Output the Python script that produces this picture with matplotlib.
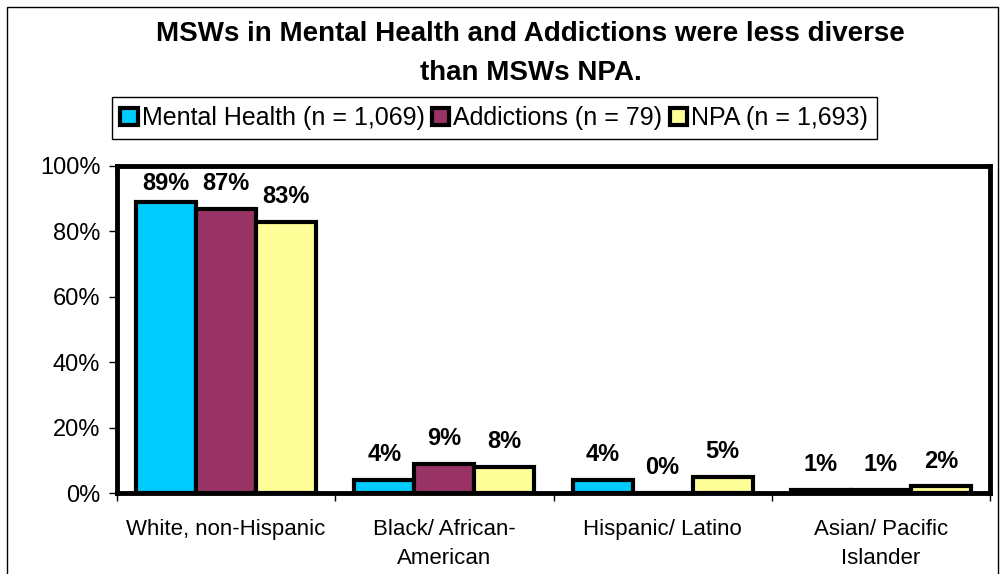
import matplotlib
matplotlib.use("Agg")
import matplotlib.pyplot as plt
import numpy as np
from matplotlib.patches import Rectangle

plt.rcParams['font.family'] = ['Liberation Sans', 'DejaVu Sans']

categories = ["White, non-Hispanic", "Black/ African-\nAmerican", "Hispanic/ Latino", "Asian/ Pacific\nIslander"]
series_names = ["Mental Health (n = 1,069)", "Addictions (n = 79)", "NPA (n = 1,693)"]
mental_health = [89, 4, 4, 1]
addictions = [87, 9, 0, 1]
npa = [83, 8, 5, 2]
yticks = [0, 20, 40, 60, 80, 100]
colors = ["#00CCFF", "#993366", "#FFFF99"]

fig = plt.figure(figsize=(10.01, 5.74), dpi=100)
ax = fig.add_axes([117/1001, 1-493/574, (990-117)/1001, (493-166)/574])

x = np.arange(len(categories))
width = 0.275
all_series = [mental_health, addictions, npa]
px_per_unit = (493 - 166) / 100.0
handles = []
for i, (vals, col, name) in enumerate(zip(all_series, colors, series_names)):
    pos = x + (i - 1) * width
    bars = ax.bar(pos, vals, width, color=col, edgecolor='black', linewidth=3, label=name, zorder=3)
    handles.append(bars)
    for p, v in zip(pos, vals):
        off_px = min(25.0, (94.5 - v) * px_per_unit)
        ax.annotate(f"{v}%", (p, v), xytext=(0, off_px * 0.72), textcoords='offset points',
                    ha='center', va='center', fontsize=17, fontweight='bold', zorder=6)

ax.set_xlim(-0.5, len(categories) - 0.5)
ax.set_ylim(0, 100)
ax.set_yticks(yticks)
ax.set_yticklabels([f"{t}%" for t in yticks], fontsize=17)
ax.tick_params(axis='y', direction='out', length=6, width=1, pad=6)
ax.set_xticks(x)
ax.set_xticklabels(categories, fontsize=16, linespacing=1.45)
ax.tick_params(axis='x', length=0, pad=19)
ax.set_xticks(np.arange(len(categories) + 1) - 0.5, minor=True)
ax.tick_params(axis='x', which='minor', direction='out', length=6, width=1)
for s in ax.spines.values():
    s.set_linewidth(3.5)
    s.set_zorder(5)

fig.text(0.53, 1-34/574, "MSWs in Mental Health and Addictions were less diverse",
         ha='center', va='center', fontsize=20, fontweight='bold')
fig.text(0.53, 1-73/574, "than MSWs NPA.", ha='center', va='center', fontsize=20, fontweight='bold')

leg = fig.legend(handles=handles, labels=series_names, loc='center',
                 bbox_to_anchor=(494/1001, 1-118/574), ncol=3, fontsize=18,
                 frameon=True, fancybox=False, edgecolor='black', framealpha=1,
                 handlelength=0.7, handleheight=0.7, handletextpad=0.15, columnspacing=0.3,
                 borderpad=0.35, borderaxespad=0)
leg.get_frame().set_linewidth(1)

fig.patches.append(Rectangle((7/1001, -0.1), (998-7)/1001, 1.1 - 7/574, transform=fig.transFigure,
                             fill=False, edgecolor='black', linewidth=1))

fig.savefig("out.png", dpi=100)
